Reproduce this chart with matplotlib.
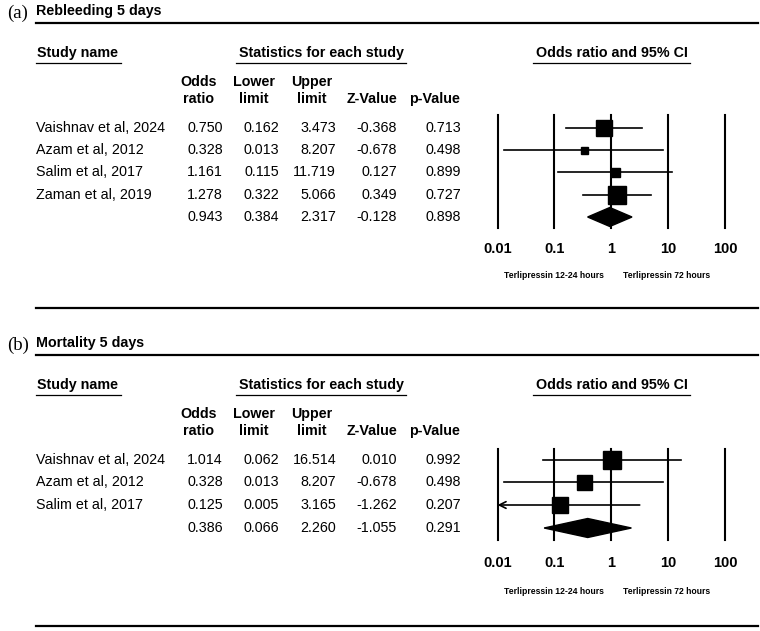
import numpy as np
import matplotlib
matplotlib.use('Agg')
import matplotlib.pyplot as plt
from matplotlib.patches import Polygon

plt.rcParams['font.family'] = ['Liberation Sans', 'DejaVu Sans']

# ---- data ----
reb_studies = ['Vaishnav et al, 2024', 'Azam et al, 2012', 'Salim et al, 2017', 'Zaman et al, 2019']
reb_or = [0.750, 0.328, 1.161, 1.278, 0.943]
reb_lo = [0.162, 0.013, 0.115, 0.322, 0.384]
reb_hi = [3.473, 8.207, 11.719, 5.066, 2.317]
reb_z = [-0.368, -0.678, 0.127, 0.349, -0.128]
reb_p = [0.713, 0.498, 0.899, 0.727, 0.898]

mor_studies = ['Vaishnav et al, 2024', 'Azam et al, 2012', 'Salim et al, 2017']
mor_or = [1.014, 0.328, 0.125, 0.386]
mor_lo = [0.062, 0.013, 0.005, 0.066]
mor_hi = [16.514, 8.207, 3.165, 2.260]
mor_z = [0.010, -0.678, -1.262, -1.055]
mor_p = [0.992, 0.498, 0.207, 0.291]

ticks = [0.01, 0.1, 1, 10, 100]
tick_labels = ['0.01', '0.1', '1', '10', '100']
left_label = 'Terlipressin 12-24 hours'
right_label = 'Terlipressin 72 hours'

# ---- layout (pixels) ----
W, H = 760, 631
FS = 10.3
panels = [
    dict(tag='(a)', title='Rebleeding 5 days', names=reb_studies, OR=reb_or, lo=reb_lo, hi=reb_hi,
         z=reb_z, p=reb_p, off=0, rows=[128, 150, 172, 195, 217], vtop=115, vbot=228,
         tick_y=248, sub_y=275, box=[16, 7, 9, 18], bottom=308),
    dict(tag='(b)', title='Mortality 5 days', names=mor_studies, OR=mor_or, lo=mor_lo, hi=mor_hi,
         z=mor_z, p=mor_p, off=332, rows=[460, 482, 505, 528], vtop=449, vbot=540,
         tick_y=562, sub_y=592, box=[18, 15, 16], bottom=626),
]

fig = plt.figure(figsize=(W / 100, H / 100), dpi=100)
ax0 = fig.add_axes([0, 0, 1, 1])
ax0.set_xlim(0, W)
ax0.set_ylim(H, 0)
ax0.axis('off')

col_right = [223, 279, 336, 397, 461]
col_center = [199, 254, 312, 372, 434]
head_top = ['Odds', 'Lower', 'Upper', '', '']
head_bot = ['ratio', 'limit', 'limit', 'Z-Value', 'p-Value']
fx0, fx1 = 497.5, 725

for pn in panels:
    o = pn['off']
    # panel tag and title
    ax0.text(7, 13 + o, pn['tag'], family='Liberation Serif', fontsize=13.5, va='center', ha='left')
    ax0.text(36, 11 + o, pn['title'], fontsize=FS, fontweight='bold', va='center', ha='left')
    ax0.plot([36, 758], [23 + o, 23 + o], color='black', lw=1.6)
    ax0.plot([36, 758], [pn['bottom'], pn['bottom']], color='black', lw=1.6)

    # group headers
    ax0.text(37, 53 + o, 'Study name', fontsize=FS, fontweight='bold', va='center', ha='left')
    ax0.plot([36, 121], [63 + o, 63 + o], color='black', lw=0.9)
    ax0.text(321, 53 + o, 'Statistics for each study', fontsize=FS, fontweight='bold', va='center', ha='center')
    ax0.plot([236, 406], [63 + o, 63 + o], color='black', lw=0.9)
    ax0.text(611.5, 53 + o, 'Odds ratio and 95% CI', fontsize=FS, fontweight='bold', va='center', ha='center')
    ax0.plot([533, 690], [63 + o, 63 + o], color='black', lw=0.9)

    for cx, t1, t2 in zip(col_center, head_top, head_bot):
        if t1:
            ax0.text(cx, 82 + o, t1, fontsize=FS, fontweight='bold', va='center', ha='center')
        ax0.text(cx, 99 + o, t2, fontsize=FS, fontweight='bold', va='center', ha='center')

    # table rows
    n = len(pn['names'])
    for i, y in enumerate(pn['rows']):
        if i < n:
            ax0.text(36, y, pn['names'][i], fontsize=FS, va='center', ha='left')
        vals = [pn['OR'][i], pn['lo'][i], pn['hi'][i], pn['z'][i], pn['p'][i]]
        for xr, v in zip(col_right, vals):
            ax0.text(xr, y, f'{v:.3f}', fontsize=FS, va='center', ha='right')

    # forest plot
    ax = fig.add_axes([fx0 / W, 1 - pn['vbot'] / H, (fx1 - fx0) / W, (pn['vbot'] - pn['vtop']) / H])
    ax.set_xscale('log')
    ax.set_xlim(0.01, 100)
    ax.set_ylim(pn['vbot'], pn['vtop'])
    for s in ax.spines.values():
        s.set_visible(False)
    ax.set_yticks([])
    ax.set_xticks(ticks)
    ax.set_xticklabels(tick_labels, fontweight='bold', fontsize=10.5)
    ax.minorticks_off()
    ax.tick_params(axis='x', length=0, pad=(pn['tick_y'] - pn['vbot'] - 6) * 0.72)
    for t in ticks:
        ax.axvline(t, color='black', lw=1.5, clip_on=False, zorder=1)

    for i in range(n):
        y = pn['rows'][i]
        lo, hi, orv = pn['lo'][i], pn['hi'][i], pn['OR'][i]
        if lo < 0.01:
            ax.annotate('', xy=(0.01, y), xytext=(hi, y),
                        arrowprops=dict(arrowstyle='->', lw=1.2, color='black',
                                        shrinkA=0, shrinkB=0, mutation_scale=12))
        else:
            ax.plot([lo, hi], [y, y], color='black', lw=1.2, clip_on=False, zorder=2)
        ax.plot([orv], [y], marker='s', color='black', markersize=pn['box'][i] * 0.72,
                clip_on=False, zorder=3)

    # pooled diamond
    y = pn['rows'][n]
    hh = 9.5
    d = Polygon([[pn['lo'][n], y], [pn['OR'][n], y - hh], [pn['hi'][n], y], [pn['OR'][n], y + hh]],
                closed=True, color='black', clip_on=False, zorder=3)
    ax.add_patch(d)

    ax0.text(554, pn['sub_y'], left_label, fontsize=6.2, fontweight='bold', va='center', ha='center')
    ax0.text(667, pn['sub_y'], right_label, fontsize=6.2, fontweight='bold', va='center', ha='center')

fig.savefig('out.png', dpi=100)
